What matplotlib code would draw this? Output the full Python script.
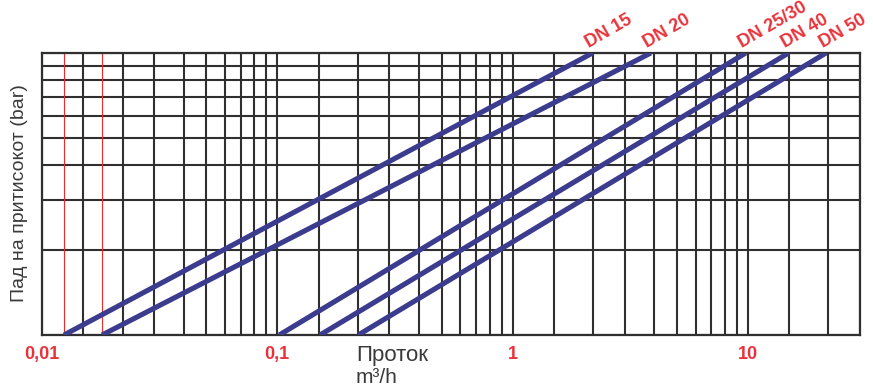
import matplotlib
matplotlib.use("Agg")
import matplotlib.pyplot as plt
from matplotlib.ticker import FixedLocator, NullFormatter

# ---- data ----
dn_labels = ["DN 15", "DN 20", "DN 25/30", "DN 40", "DN 50"]
q_start = [0.0124, 0.0180, 0.102, 0.152, 0.221]      # m3/h at lowest pressure drop
q_end = [2.19, 3.87, 9.8, 14.9, 21.5]                 # m3/h at highest pressure drop
dp_low = 0.1                                          # bar (bottom of chart)
dp_high = 1.0                                         # bar (top of chart)
red_marks = [0.0124, 0.0180]                          # red reference lines
x_tick_vals = [0.01, 0.1, 1, 10]
x_tick_labels = ["0,01", "0,1", "1", "10"]
x_grid_mant = [1, 1.5, 2.2, 3, 4, 5, 6, 7, 8, 9]
y_grid_mant = [1, 2, 3, 4, 5, 6, 7, 8, 9, 10]

BLUE = "#3c3c8e"
RED = "#e8333b"
GRID = "#2f2f2f"

fig = plt.figure(figsize=(8.73, 3.86), dpi=100)
ax = fig.add_axes([42 / 873, 1 - 335 / 386, (860 - 42) / 873, (335 - 53) / 386])
ax.set_xscale("log")
ax.set_yscale("log")
ax.set_xlim(0.01, 30)
ax.set_ylim(dp_low, dp_high)

xgrid = [m * d for d in [0.01, 0.1, 1, 10] for m in x_grid_mant if m * d <= 30]
ygrid = [m * dp_low for m in y_grid_mant]
for xv in xgrid:
    ax.axvline(xv, color=GRID, lw=1.5, zorder=1)
for yv in ygrid:
    ax.axhline(yv, color=GRID, lw=1.5, zorder=1)
for xv in red_marks:
    ax.axvline(xv, color="#ee2a2a", lw=0.8, zorder=1.5)

for lab, qs, qe in zip(dn_labels, q_start, q_end):
    ax.plot([qs, qe], [dp_low, dp_high], color=BLUE, lw=3.7,
            solid_capstyle="butt", zorder=3)
    ax.annotate(lab, xy=(qe, dp_high), xytext=(-1, 1), textcoords="offset points",
                rotation=30, rotation_mode="anchor", ha="left", va="bottom",
                color=RED, fontsize=13, fontweight="bold",
                family=["Liberation Sans", "DejaVu Sans"], annotation_clip=False)

ax.xaxis.set_major_locator(FixedLocator(x_tick_vals))
ax.set_xticklabels(x_tick_labels)
ax.xaxis.set_minor_locator(FixedLocator([]))
ax.xaxis.set_minor_formatter(NullFormatter())
ax.yaxis.set_major_locator(FixedLocator([]))
ax.yaxis.set_minor_locator(FixedLocator([]))
ax.tick_params(axis="both", which="both", length=0)
ax.tick_params(axis="x", pad=8)
for t in ax.get_xticklabels():
    t.set_color(RED)
    t.set_fontweight("bold")
    t.set_fontsize(13)
    t.set_family(["Liberation Sans Narrow", "Liberation Sans", "DejaVu Sans"])

for sp in ax.spines.values():
    sp.set_color(GRID)
    sp.set_linewidth(1.6)

fig.text(356 / 873, 1 - 361 / 386, "Проток", color="#3a3a3a", fontsize=16,
         family=["Liberation Sans", "DejaVu Sans"], ha="left", va="baseline")
fig.text(356 / 873, 1 - 383 / 386, "m³/h", color="#3a3a3a", fontsize=15,
         family=["Liberation Sans", "DejaVu Sans"], ha="left", va="baseline")
fig.text(20 / 873, 1 - 193 / 386, "Пад на притисокот (bar)", color="#3a3a3a",
         fontsize=14, rotation=90, family=["Liberation Sans", "DejaVu Sans"],
         ha="center", va="center")

fig.savefig("out.png", dpi=100)
